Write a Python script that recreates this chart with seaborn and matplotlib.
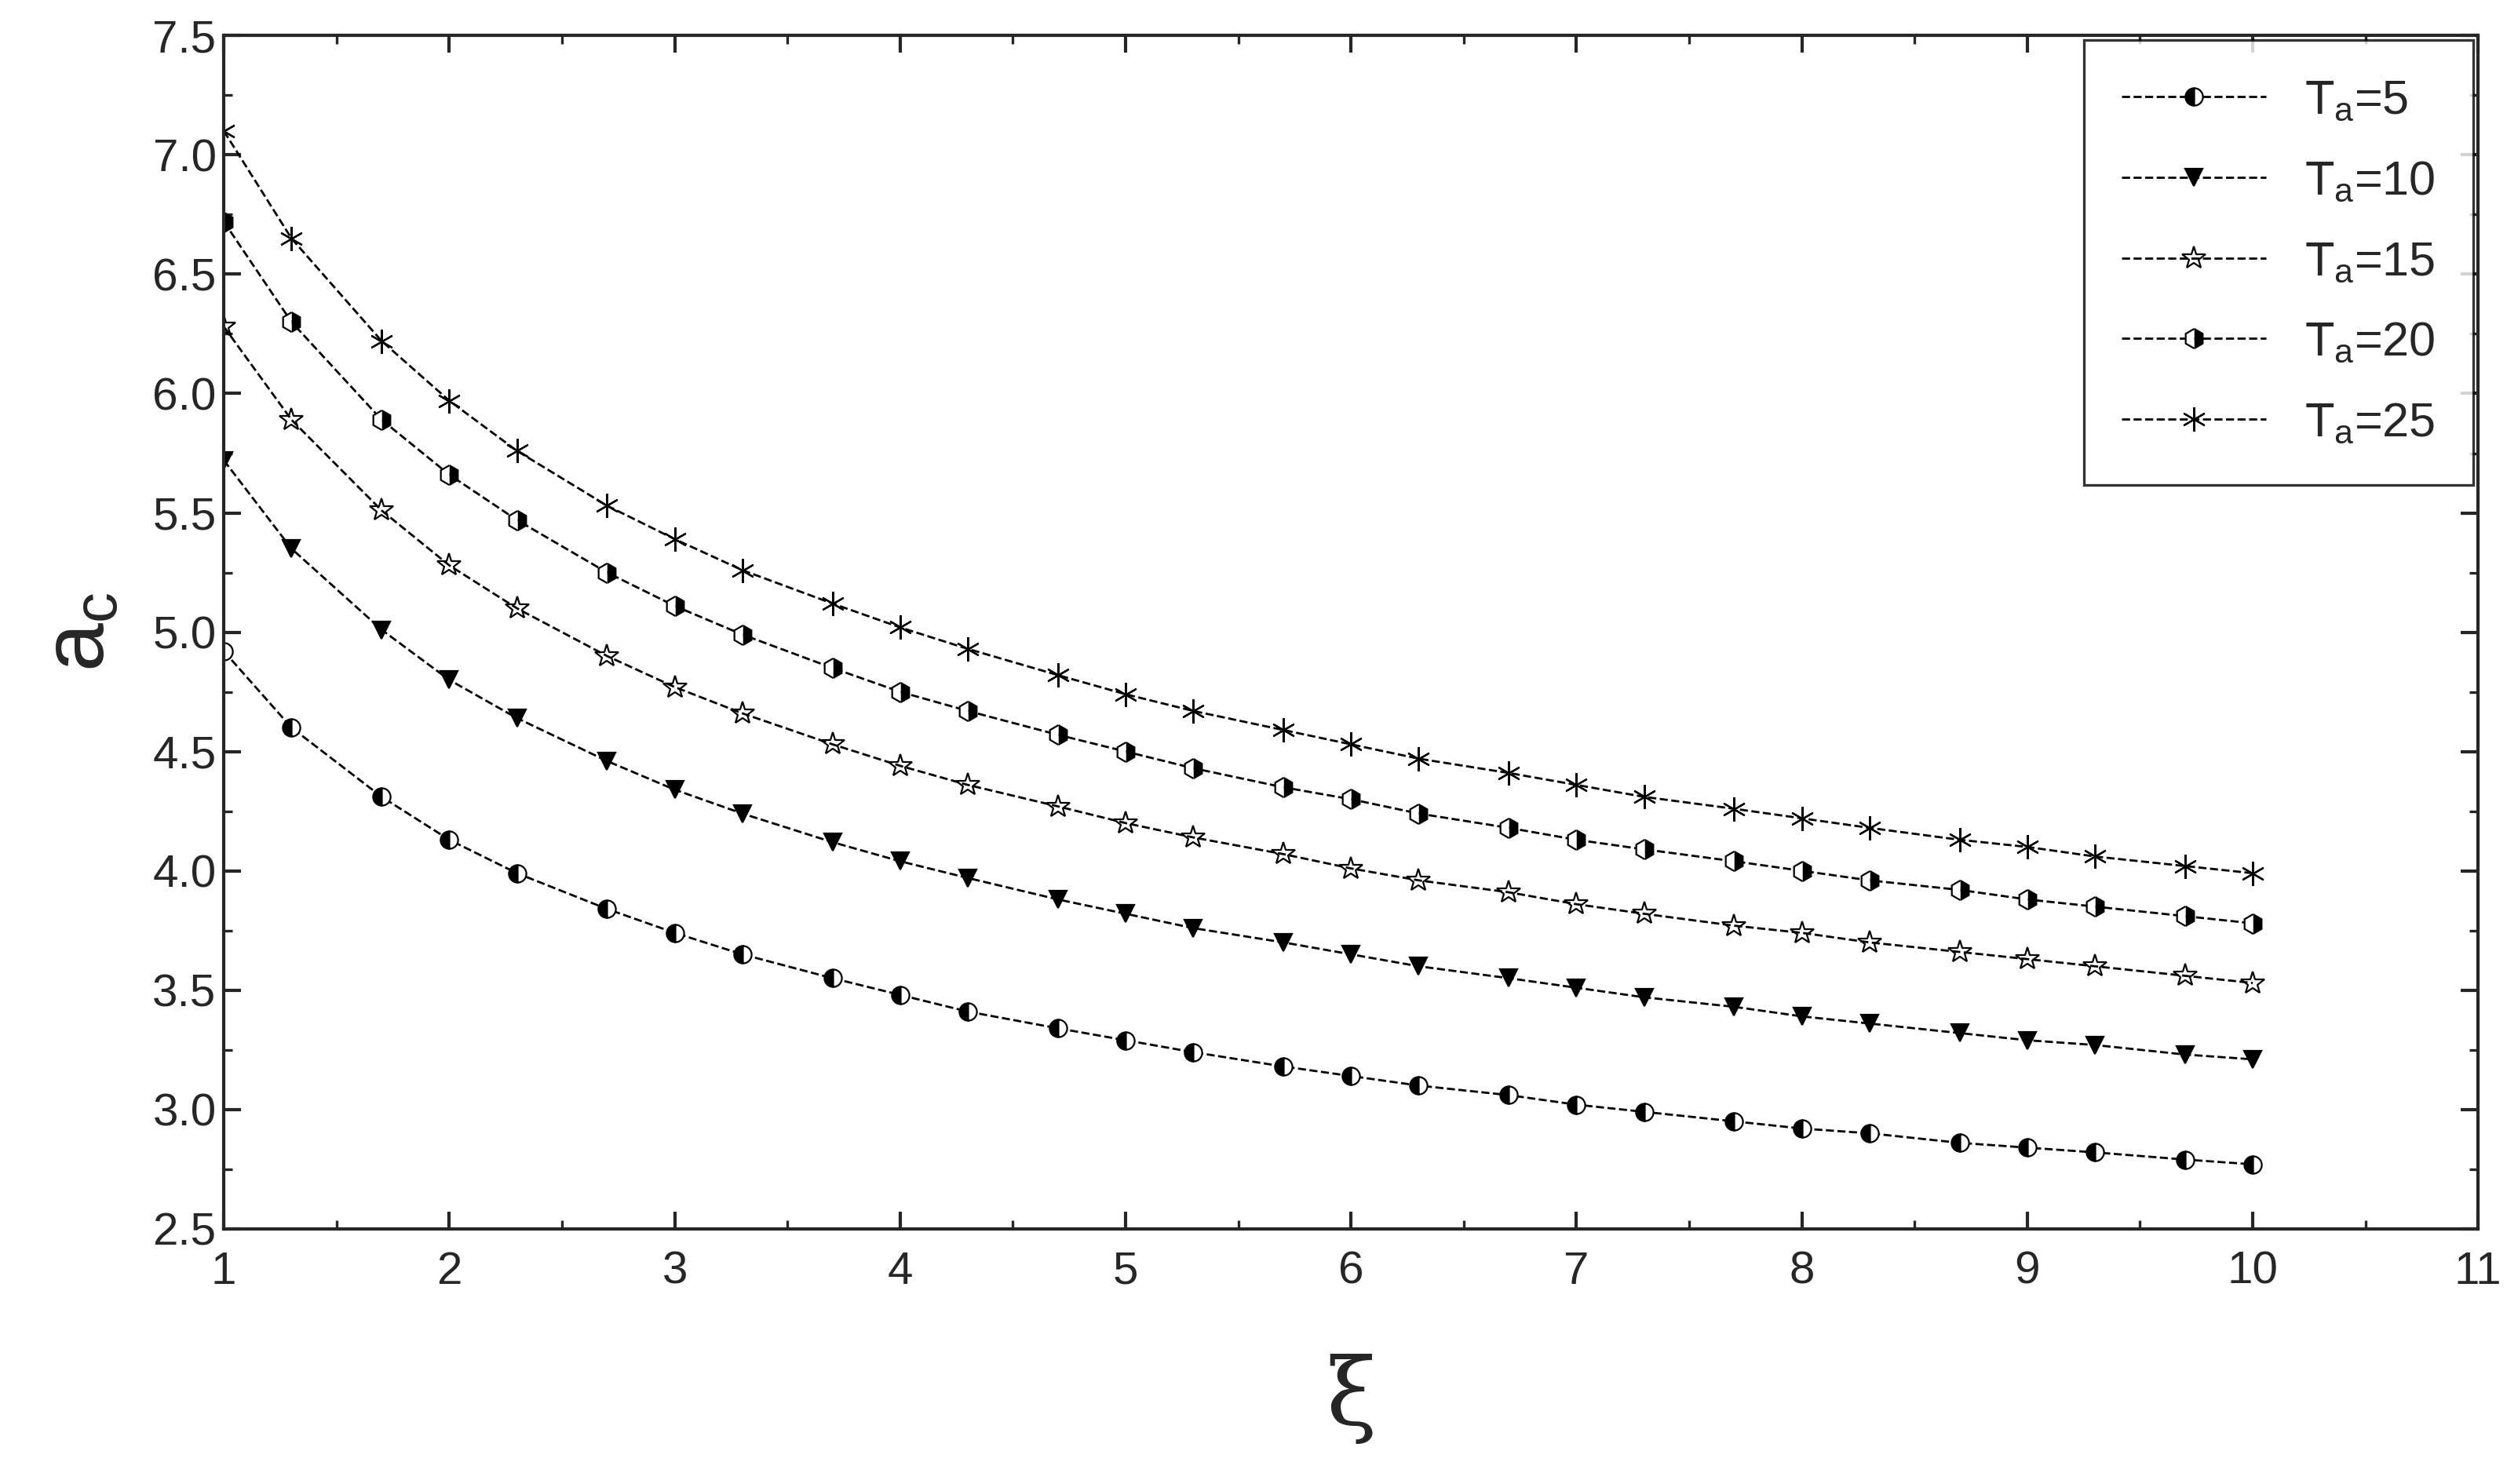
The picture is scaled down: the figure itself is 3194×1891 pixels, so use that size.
import matplotlib
matplotlib.use("Agg")
import matplotlib.pyplot as plt
import seaborn as sns
import pandas as pd
from matplotlib.ticker import MultipleLocator

xi = [1, 1.3, 1.7, 2, 2.3, 2.7, 3, 3.3, 3.7, 4, 4.3, 4.7, 5, 5.3, 5.7, 6, 6.3, 6.7, 7, 7.3, 7.7, 8, 8.3, 8.7, 9, 9.3, 9.7, 10]
ta5 = [4.92, 4.60, 4.31, 4.13, 3.99, 3.84, 3.74, 3.65, 3.55, 3.48, 3.41, 3.34, 3.29, 3.24, 3.18, 3.14, 3.10, 3.06, 3.02, 2.99, 2.95, 2.92, 2.90, 2.86, 2.84, 2.82, 2.79, 2.77]
ta10 = [5.72, 5.35, 5.01, 4.80, 4.64, 4.46, 4.34, 4.24, 4.12, 4.04, 3.97, 3.88, 3.82, 3.76, 3.70, 3.65, 3.60, 3.55, 3.51, 3.47, 3.43, 3.39, 3.36, 3.32, 3.29, 3.27, 3.23, 3.21]
ta15 = [6.28, 5.89, 5.51, 5.28, 5.10, 4.90, 4.77, 4.66, 4.53, 4.44, 4.36, 4.27, 4.20, 4.14, 4.07, 4.01, 3.96, 3.91, 3.86, 3.82, 3.77, 3.74, 3.70, 3.66, 3.63, 3.60, 3.56, 3.53]
ta20 = [6.72, 6.30, 5.89, 5.66, 5.47, 5.25, 5.11, 4.99, 4.85, 4.75, 4.67, 4.57, 4.50, 4.43, 4.35, 4.30, 4.24, 4.18, 4.13, 4.09, 4.04, 4.00, 3.96, 3.92, 3.88, 3.85, 3.81, 3.78]
ta25 = [7.10, 6.65, 6.22, 5.97, 5.76, 5.53, 5.39, 5.26, 5.12, 5.02, 4.93, 4.82, 4.74, 4.67, 4.59, 4.53, 4.47, 4.41, 4.36, 4.31, 4.26, 4.22, 4.18, 4.13, 4.10, 4.06, 4.02, 3.99]
labels = ["$\\mathregular{T_a}$=5", "$\\mathregular{T_a}$=10", "$\\mathregular{T_a}$=15", "$\\mathregular{T_a}$=20", "$\\mathregular{T_a}$=25"]
series = [ta5, ta10, ta15, ta20, ta25]

sns.set_style("ticks")
plt.rcParams['font.family'] = ['Liberation Sans', 'DejaVu Sans']
fig = plt.figure(figsize=(15.97, 9.455), dpi=200)
ax = fig.add_axes([0.0893, 0.172, 0.8992, 0.804])

styles = [dict(marker='o', fillstyle='left', markersize=8),
          dict(marker='v', fillstyle='full', markersize=8),
          dict(marker='*', fillstyle='none', markersize=11),
          dict(marker='h', fillstyle='right', markersize=9),
          dict(marker=(6, 2, 0), fillstyle='full', markersize=11)]
for ys, lab, st in zip(series, labels, styles):
    df = pd.DataFrame({'x': xi, 'y': ys})
    sns.lineplot(data=df, x='x', y='y', ax=ax, color='black', linestyle='--', linewidth=1.0,
                 marker=st['marker'], markersize=st['markersize'], fillstyle=st['fillstyle'],
                 markerfacecolor='black' if st['fillstyle'] != 'none' else 'white',
                 markerfacecoloralt='white', markeredgecolor='black', markeredgewidth=0.8,
                 label=lab)

ax.set_xlim(1, 11)
ax.set_ylim(2.5, 7.5)
ax.xaxis.set_major_locator(MultipleLocator(1))
ax.xaxis.set_minor_locator(MultipleLocator(0.5))
ax.yaxis.set_major_locator(MultipleLocator(0.5))
ax.yaxis.set_minor_locator(MultipleLocator(0.25))
ax.tick_params(which='major', direction='in', length=8, width=1.5, labelsize=21, top=True, right=True)
ax.tick_params(axis='x', pad=10)
ax.tick_params(which='minor', direction='in', length=4, width=1.2, top=True, right=True)
ax.set_yticklabels([f"{v:.1f}" for v in ax.get_yticks()])
for s in ax.spines.values():
    s.set_linewidth(1.5)
ax.set_xlabel("ξ", fontsize=42, labelpad=28, family=['DejaVu Serif'])
ax.set_ylabel("$\\mathregular{a_c}$", fontsize=40, labelpad=14)
leg = ax.legend(loc='upper right', fontsize=22, frameon=True, fancybox=False, edgecolor='black',
                handlelength=3, borderaxespad=0.1, labelspacing=0.75, borderpad=0.8)
leg.get_frame().set_linewidth(1.2)
fig.savefig("out.png", dpi=200)
